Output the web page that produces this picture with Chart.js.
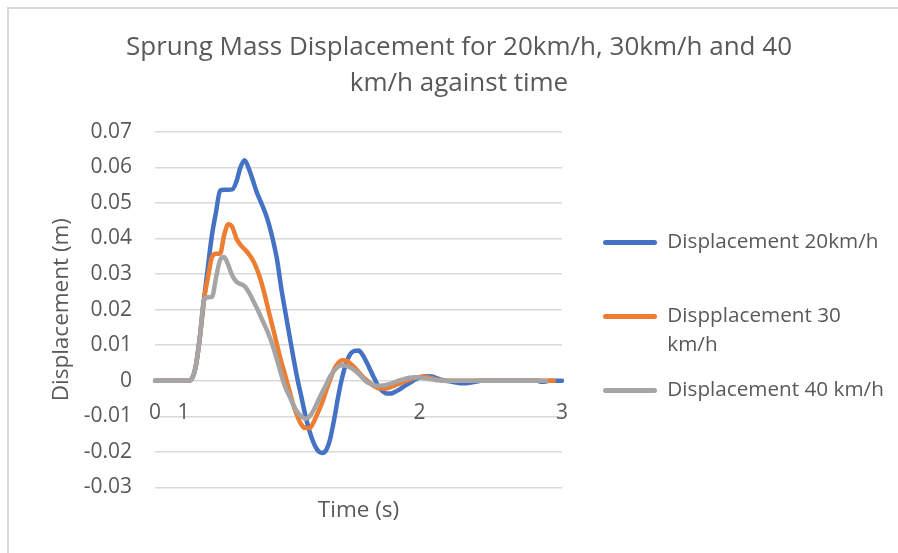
<!DOCTYPE html>
<html>
<head>
<meta charset="utf-8">
<script src="https://cdn.jsdelivr.net/npm/chart.js@4/dist/chart.umd.min.js"></script>
<style>
  html, body { margin: 0; padding: 0; background: #fff; overflow: hidden; }
  #frame { position: absolute; left: 7px; top: 7px; width: 889px; height: 544px;
           border-left: 2px solid #d9d9d9; border-top: 2px solid #d9d9d9; }
  #wrap { position: absolute; left: 0; top: 0; width: 898px; height: 553px; }
</style>
</head>
<body>
<div id="frame"></div>
<div id="wrap"><canvas id="chart" width="898" height="553"></canvas></div>
<script>
// Sample count along the time axis (solver output, uneven time steps)
const sampleCount = 101;

// Axis labels shown on the time axis: [sample index, label]
const timeTicks = [[0, '0'], [7, '1'], [65, '2'], [100, '3']];

// Legend entries (wrapped the way they appear)
const seriesNames = ['Displacement 20km/h', 'Dispplacement 30 km/h', 'Displacement 40 km/h'];
const legendLines = [['Displacement 20km/h', ''], ['Dispplacement 30', 'km/h'], ['Displacement 40 km/h']];

// Sprung mass displacement (m) per sample
const disp20 = [
  0, 0, 0, 0, 0, 0, 0, 0, 0, 0.0005,
  0.004, 0.012, 0.0225, 0.032, 0.041, 0.0475, 0.0535, 0.0537, 0.0537, 0.0538,
  0.056, 0.060, 0.062, 0.0598, 0.0565, 0.053, 0.0503, 0.0475, 0.044, 0.0395,
  0.034, 0.0262, 0.0195, 0.013, 0.0065, 0.0005, -0.0047, -0.010, -0.0143, -0.0175,
  -0.0196, -0.0203, -0.0196, -0.0165, -0.011, -0.0045, 0.001, 0.005, 0.0075, 0.0084,
  0.0085, 0.0073, 0.0052, 0.0028, 0.0004, -0.0018, -0.003, -0.0036, -0.0036, -0.0031,
  -0.0025, -0.0017, -0.001, -0.0003, 0.0004, 0.0009, 0.0012, 0.0013, 0.0012, 0.0008,
  0.0004, 0.0001, -0.0001, -0.0003, -0.0005, -0.0007, -0.0007, -0.0006, -0.0004, -0.0002,
  0, 0, 0, 0, 0, 0, 0, 0, 0, 0,
  0, 0, 0, 0, 0, -0.0003, -0.0002, 0, 0, 0,
  0
];
const disp30 = [
  0, 0, 0, 0, 0, 0, 0, 0, 0, 0.0005,
  0.004, 0.012, 0.0225, 0.029, 0.0348, 0.0357, 0.0358, 0.041, 0.044, 0.0432,
  0.040, 0.0382, 0.037, 0.0357, 0.034, 0.0315, 0.0282, 0.024, 0.0192, 0.0147,
  0.010, 0.0055, 0.0015, -0.0027, -0.0068, -0.010, -0.0124, -0.0133, -0.0133, -0.0116,
  -0.009, -0.0063, -0.003, 0.0002, 0.0032, 0.005, 0.0058, 0.0057, 0.0048, 0.0038,
  0.0025, 0.0012, 0.0002, -0.0008, -0.0016, -0.0021, -0.0022, -0.0021, -0.0017, -0.0013,
  -0.0008, -0.0004, 0.0001, 0.0005, 0.0009, 0.0011, 0.0012, 0.001, 0.0007, 0.0004,
  0.0002, 0, 0, 0, 0, 0, 0, 0, 0, 0,
  0, 0, 0, 0, 0, 0, 0, 0, 0, 0,
  0, 0, 0, 0, 0, 0, 0, 0, 0
];
const disp40 = [
  0, 0, 0, 0, 0, 0, 0, 0, 0, 0.0005,
  0.004, 0.012, 0.0225, 0.0235, 0.0236, 0.029, 0.034, 0.0348, 0.0325, 0.0295,
  0.0279, 0.0272, 0.0266, 0.025, 0.0228, 0.0205, 0.018, 0.0155, 0.0128, 0.0096,
  0.0058, 0.0018, -0.0018, -0.0042, -0.0068, -0.0088, -0.010, -0.0107, -0.010, -0.0082,
  -0.0058, -0.0034, -0.0012, 0.0012, 0.0028, 0.004, 0.0044, 0.0042, 0.0037, 0.003,
  0.002, 0.0008, -0.0003, -0.0009, -0.0013, -0.0014, -0.0013, -0.0011, -0.0008, -0.0004,
  0.0001, 0.0004, 0.0007, 0.0009, 0.001, 0.0009, 0.0008, 0.0006, 0.0004, 0.0002,
  0.0001, 0, 0, 0, 0, 0, 0, 0, 0, 0,
  0, 0, 0, 0, 0, 0, 0, 0, 0, 0,
  0, 0, 0, 0, 0, 0, 0
];

const colors = ['#4472C4', '#ED7D31', '#A5A5A5'];
const textColor = '#595959';
const fontFamily = "'Open Sans', 'Noto Sans', sans-serif";
const legendWidth = 305;

// Category labels: blank except at the labelled times
const labels = new Array(sampleCount).fill('');
timeTicks.forEach(([i, t]) => { labels[i] = t; });

const chart = new Chart(document.getElementById('chart'), {
  type: 'line',
  data: {
    labels: labels,
    datasets: [
      { label: seriesNames[0], data: disp20, borderColor: colors[0], order: 3 },
      { label: seriesNames[1], data: disp30, borderColor: colors[1], order: 2 },
      { label: seriesNames[2], data: disp40, borderColor: colors[2], order: 1 }
    ]
  },
  options: {
    responsive: false,
    animation: false,
    devicePixelRatio: 1,
    layout: { padding: { left: 26, right: 6, top: 0, bottom: 25 } },
    elements: {
      line: { borderWidth: 4.5, cubicInterpolationMode: 'monotone', borderCapStyle: 'round', borderJoinStyle: 'round', fill: false },
      point: { radius: 0, hoverRadius: 0 }
    },
    plugins: {
      tooltip: { enabled: false },
      title: {
        display: true,
        text: ['Sprung Mass Displacement for 20km/h, 30km/h and 40', 'km/h against time'],
        color: textColor,
        font: { family: fontFamily, size: 26, weight: 'normal', lineHeight: 1.4 },
        padding: { top: 29, bottom: 30 }
      },
      legend: {
        position: 'right',
        align: 'center',
        fullSize: false,
        title: { display: true, text: ' ', font: { size: 12, lineHeight: 1 }, padding: 5 },
        labels: {
          color: textColor,
          font: { family: fontFamily, size: 20.7, lineHeight: 1.4 },
          boxWidth: 54,
          boxHeight: 5,
          padding: 16,
          generateLabels: (chart) => chart.data.datasets.map((ds, i) => ({
            text: legendLines[i],
            fillStyle: ds.borderColor,
            strokeStyle: ds.borderColor,
            lineWidth: 0,
            borderRadius: 2.5,
            fontColor: textColor,
            hidden: false,
            datasetIndex: i
          }))
        }
      }
    },
    scales: {
      x: {
        type: 'category',
        position: { y: 0 },
        grid: { display: false, drawTicks: false },
        border: { display: false },
        ticks: {
          autoSkip: false, maxRotation: 0, minRotation: 0,
          color: textColor, padding: 19.5,
          font: { family: fontFamily, size: 21 }
        }
      },
      x2: {
        type: 'category',
        position: 'bottom',
        grid: { display: false, drawTicks: false },
        border: { display: false },
        ticks: { display: false },
        title: {
          display: true, text: 'Time (s)', color: textColor,
          font: { family: fontFamily, size: 22.5, lineHeight: 1.2 },
          padding: { top: 9.5, bottom: 4 }
        }
      },
      y: {
        type: 'linear',
        position: 'left',
        min: -0.03,
        max: 0.07,
        afterFit: (s) => { s.width = 129; },
        grid: { color: '#d9d9d9', lineWidth: 1.5, drawTicks: false },
        border: { display: false },
        ticks: {
          stepSize: 0.01, color: textColor, padding: 23,
          font: { family: fontFamily, size: 21 },
          callback: (v) => (Math.abs(v) < 1e-9 ? '0' : v.toFixed(2))
        },
        title: {
          display: true, text: 'Displacement (m)', color: textColor,
          font: { family: fontFamily, size: 22.5, lineHeight: 1.2 },
          padding: { top: 22.5, bottom: 4 }
        }
      },
      yGap: {
        type: 'linear',
        position: 'right',
        grid: { display: false, drawTicks: false },
        border: { display: false },
        ticks: { display: false },
        afterFit: (s) => { s.width = 25; }
      }
    }
  }
});

// The layout caps side boxes at a fraction of the width; give the legend its full column.
const legendBox = chart.legend;
const baseFit = legendBox.fit;
legendBox.fit = function () {
  baseFit.call(this);
  this.width = legendWidth;
};
chart.update();
</script>
</body>
</html>
